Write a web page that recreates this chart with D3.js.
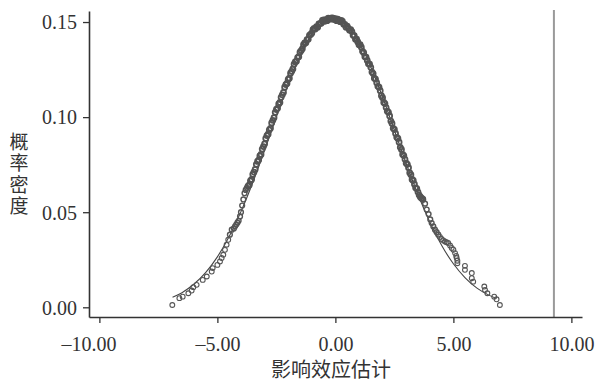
<!DOCTYPE html>
<html><head><meta charset="utf-8">
<script src="https://cdn.jsdelivr.net/npm/d3@7"></script>
<style>body{margin:0;background:#fff} svg{display:block}</style>
</head><body><svg id="c" width="595" height="383"></svg>
<script>
const xTicks = [-10, -5, 0, 5, 10];
const yTicks = [0, 0.05, 0.10, 0.15];
const xTitle = "影响效应估计";
const yTitle = "概率密度";
const refLineX = 9.26;

// fitted normal curve
const curveX = [-6.9,-6.5,-6.0,-5.5,-5.0,-4.5,-4.0,-3.5,-3.0,-2.5,-2.0,-1.5,-1.0,-0.5,0.0,0.5,1.0,1.5,2.0,2.5,3.0,3.5,4.0,4.5,5.0,5.5,6.0,6.5,6.8];
const curveY = [0.0053,0.0077,0.0121,0.0182,0.0265,0.0372,0.0503,0.0656,0.0825,0.1001,0.1171,0.1321,0.1436,0.1505,0.1522,0.1484,0.1395,0.1264,0.1105,0.0931,0.0756,0.0593,0.0448,0.0326,0.0229,0.0155,0.0101,0.0064,0.0048];

const leftTail = [[-6.91,0.0012],[-6.61,0.0048],[-6.47,0.0056],[-6.23,0.0074],[-6.09,0.0088],[-6.02,0.0106],[-5.88,0.0118],[-5.62,0.0144],[-5.45,0.0162],[-5.24,0.0188],[-5.20,0.0206],[-5.00,0.0223],[-4.89,0.0241],[-4.82,0.0259],[-4.75,0.0276],[-4.68,0.0302],[-4.61,0.0329],[-4.54,0.0355],[-4.47,0.0382],[-4.39,0.0408],[-4.30,0.0415],[-4.25,0.0426],[-4.20,0.0435],[-4.15,0.0445],[-4.10,0.0455],[-4.04,0.0478],[-4.00,0.0500],[-3.95,0.0535],[-3.90,0.0567],[-3.85,0.0600],[-3.80,0.0617],[-3.75,0.0628]];
const bandX = [-3.70,-3.65,-3.60,-3.55,-3.50,-3.45,-3.40,-3.35,-3.30,-3.25,-3.20,-3.15,-3.10,-3.05,-3.00,-2.95,-2.90,-2.85,-2.80,-2.75,-2.70,-2.65,-2.60,-2.55,-2.50,-2.45,-2.40,-2.35,-2.30,-2.25,-2.20,-2.15,-2.10,-2.05,-2.00,-1.95,-1.90,-1.85,-1.80,-1.75,-1.70,-1.65,-1.60,-1.55,-1.50,-1.45,-1.40,-1.35,-1.30,-1.25,-1.20,-1.15,-1.10,-1.05,-1.00,-0.95,-0.90,-0.85,-0.80,-0.75,-0.70,-0.65,-0.60,-0.55,-0.50,-0.45,-0.40,-0.35,-0.30,-0.25,-0.20,-0.15,-0.10,-0.05,0.00,0.05,0.10,0.15,0.20,0.25,0.30,0.35,0.40,0.45,0.50,0.55,0.60,0.65,0.70,0.75,0.80,0.85,0.90,0.95,1.00,1.05,1.10,1.15,1.20,1.25,1.30,1.35,1.40,1.45,1.50,1.55,1.60,1.65,1.70,1.75,1.80,1.85,1.90,1.95,2.00,2.05,2.10,2.15,2.20,2.25,2.30,2.35,2.40,2.45,2.50,2.55,2.60,2.65,2.70,2.75,2.80,2.85,2.90,2.95,3.00,3.05,3.10,3.15,3.20,3.25,3.30,3.35,3.40,3.45,3.50,3.55,3.60,3.65,3.70];
const bandY = [0.0637,0.0643,0.0665,0.0672,0.0699,0.0711,0.0725,0.0752,0.0767,0.0774,0.0796,0.0804,0.0832,0.0845,0.0859,0.0888,0.0903,0.0910,0.0933,0.0941,0.0969,0.0983,0.0997,0.1025,0.1040,0.1046,0.1069,0.1077,0.1104,0.1117,0.1130,0.1157,0.1171,0.1177,0.1198,0.1205,0.1231,0.1241,0.1253,0.1278,0.1290,0.1294,0.1313,0.1318,0.1341,0.1350,0.1359,0.1381,0.1390,0.1391,0.1408,0.1409,0.1430,0.1435,0.1441,0.1460,0.1466,0.1463,0.1476,0.1473,0.1490,0.1492,0.1494,0.1509,0.1511,0.1504,0.1513,0.1507,0.1520,0.1517,0.1515,0.1522,0.1521,0.1513,0.1518,0.1507,0.1515,0.1508,0.1502,0.1509,0.1503,0.1488,0.1488,0.1473,0.1478,0.1467,0.1457,0.1460,0.1450,0.1431,0.1428,0.1409,0.1410,0.1395,0.1381,0.1381,0.1368,0.1346,0.1339,0.1318,0.1315,0.1298,0.1281,0.1278,0.1262,0.1237,0.1229,0.1205,0.1200,0.1181,0.1162,0.1157,0.1139,0.1113,0.1102,0.1077,0.1071,0.1050,0.1031,0.1025,0.1006,0.0979,0.0967,0.0941,0.0935,0.0914,0.0894,0.0888,0.0868,0.0841,0.0830,0.0804,0.0798,0.0778,0.0758,0.0752,0.0734,0.0707,0.0697,0.0672,0.0667,0.0647,0.0628,0.0624,0.0606,0.0590,0.0580,0.0574,0.0569];
const rightTail = [[3.72,0.0567],[3.80,0.0545],[3.87,0.0514],[3.95,0.0490],[4.02,0.0462],[4.08,0.0443],[4.15,0.0425],[4.22,0.0408],[4.29,0.0395],[4.36,0.0382],[4.43,0.0370],[4.50,0.0359],[4.57,0.0352],[4.64,0.0346],[4.71,0.0342],[4.78,0.0338],[4.86,0.0325],[4.93,0.0312],[5.00,0.0303],[5.07,0.0285],[5.12,0.0270],[5.14,0.0259],[5.17,0.0245],[5.17,0.0232],[5.49,0.0218],[5.49,0.0197],[5.78,0.0180],[5.78,0.0153],[5.84,0.0135],[6.31,0.0109],[6.34,0.0091],[6.44,0.0074],[6.73,0.0056],[6.83,0.0042],[6.97,0.0012]];

const svg = d3.select("#c");
const x = d3.scaleLinear().domain([-10.44, 10.45]).range([89, 582]);
const y = d3.scaleLinear().domain([-0.0051, 0.1558]).range([317, 11]);
const fmt = d => (d < 0 ? "\u2013" : "") + Math.abs(d).toFixed(2);
const numFont = "'Liberation Serif','Times New Roman',serif";
const cjkFont = "'Noto Sans CJK SC','Noto Sans CJK JP',sans-serif";

// reference vertical line
svg.append("line")
  .attr("x1", x(refLineX)).attr("x2", x(refLineX))
  .attr("y1", y.range()[1] - 1).attr("y2", y.range()[0])
  .attr("stroke", "#9a9a9a").attr("stroke-width", 2);

// normal curve
const curvePts = curveX.map((v, i) => [v, curveY[i]]);
svg.append("path").datum(curvePts)
  .attr("fill", "none").attr("stroke", "#444").attr("stroke-width", 1.1)
  .attr("d", d3.line().x(d => x(d[0])).y(d => y(d[1])).curve(d3.curveNatural));

// density markers
const tailPts = leftTail.concat(rightTail);
const bandPts = bandX.map((v, i) => [v, bandY[i]]);
const mk = svg.append("g");
mk.selectAll("circle.t").data(tailPts).join("circle").attr("class", "t")
  .attr("cx", d => x(d[0])).attr("cy", d => y(d[1])).attr("r", 2.4)
  .attr("fill", "none").attr("stroke", "#555")
  .attr("stroke-width", d => d[1] > 0.038 ? 1.4 : 1.1);
mk.selectAll("circle.b").data(bandPts).join("circle").attr("class", "b")
  .attr("cx", d => x(d[0])).attr("cy", d => y(d[1])).attr("r", 2.5)
  .attr("fill", "none").attr("stroke", "#545454").attr("stroke-width", 1.8);

// axes
const gx = svg.append("g").attr("transform", "translate(0,317)")
  .call(d3.axisBottom(x).tickValues(xTicks).tickFormat(fmt).tickSize(6).tickSizeOuter(0).tickPadding(14));
const gy = svg.append("g").attr("transform", "translate(89,0)")
  .call(d3.axisLeft(y).tickValues(yTicks).tickFormat(d => d.toFixed(2)).tickSize(6).tickSizeOuter(0).tickPadding(6));
[gx, gy].forEach(g => {
  g.select(".domain").attr("stroke", "#333").attr("stroke-width", 1.6);
  g.selectAll(".tick line").attr("stroke", "#333").attr("stroke-width", 1.3);
  g.selectAll(".tick text").attr("fill", "#333").style("font-family", numFont).style("font-size", "20px");
});
gy.selectAll(".tick text").attr("dy", "0.34em");
gx.selectAll(".tick text").filter(d => d === -10).attr("dx", -11);

// titles
svg.append("text").attr("x", 331).attr("y", 377)
  .attr("text-anchor", "middle").attr("fill", "#333")
  .style("font-family", cjkFont).style("font-size", "20px").text(xTitle);
svg.append("text").attr("x", 19).attr("y", 132)
  .attr("fill", "#333")
  .style("font-family", cjkFont).style("font-size", "19px")
  .style("writing-mode", "vertical-rl").style("text-orientation", "upright")
  .style("letter-spacing", "2.5px")
  .text(yTitle);
</script></body></html>
